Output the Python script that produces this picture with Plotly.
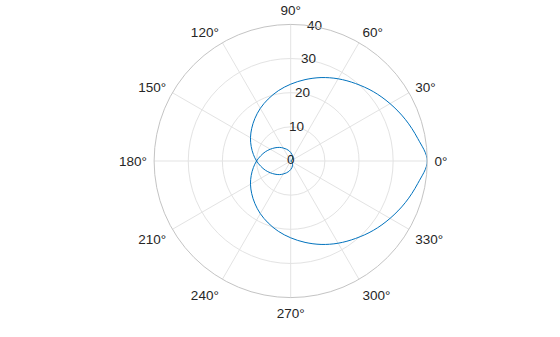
import plotly.graph_objects as go

# Curve samples (theta in degrees, r in data units)
theta_deg = [0, 10, 20, 30, 40, 50, 60, 70, 80, 90, 100, 110, 120, 130, 140, 150, 160, 170, 180,
             190, 200, 210, 220, 230, 240, 250, 260, 270, 280, 290, 300, 310, 320, 330, 340, 350, 360,
             370, 380, 390, 400, 410, 420, 430, 440, 450, 460, 470, 480, 490, 500, 510, 520, 530, 540,
             550, 560, 570, 580, 590, 600, 610, 620, 630, 640, 650, 660, 670, 680, 690, 700, 710, 720]
r_vals = [40.0, 37.8, 35.7, 33.6, 31.6, 29.6, 27.8, 26.0, 24.2, 22.5, 20.9, 19.3, 17.8, 16.3, 14.9, 13.6, 12.3, 11.1, 10.0,
          8.9, 7.9, 6.9, 6.0, 5.2, 4.4, 3.7, 3.1, 2.5, 2.0, 1.5, 1.1, 0.8, 0.5, 0.3, 0.12, 0.03, 0.0,
          0.03, 0.12, 0.3, 0.5, 0.8, 1.1, 1.5, 2.0, 2.5, 3.1, 3.7, 4.4, 5.2, 6.0, 6.9, 7.9, 8.9, 10.0,
          11.1, 12.3, 13.6, 14.9, 16.3, 17.8, 19.3, 20.9, 22.5, 24.2, 26.0, 27.8, 29.6, 31.6, 33.6, 35.7, 37.8, 40.0]

angle_ticks = [0, 30, 60, 90, 120, 150, 180, 210, 240, 270, 300, 330]
angle_labels = [f"{a}\u00b0" for a in angle_ticks]
r_ticks = [0, 10, 20, 30, 40]
r_labels = ["0", "10", "20", "30", "40"]
r_label_angle = 80

TXT = "#262626"
FONT = "Liberation Sans, Arial, sans-serif"
FS = 13.5

fig = go.Figure()
fig.add_trace(go.Scatterpolar(
    r=r_vals, theta=theta_deg, mode="lines",
    line=dict(color="#0072BD", width=1, shape="spline", smoothing=1.0),
    hoverinfo="skip", showlegend=False))
fig.add_trace(go.Scatterpolar(
    r=r_ticks, theta=[r_label_angle] * len(r_ticks), mode="text",
    text=r_labels, textposition="middle center",
    textfont=dict(family=FONT, size=FS, color=TXT),
    hoverinfo="skip", showlegend=False, cliponaxis=False))

fig.update_layout(
    width=560, height=337,
    margin=dict(l=0, r=0, t=0, b=0),
    paper_bgcolor="white",
    font=dict(family=FONT, size=FS, color=TXT),
    showlegend=False,
    polar=dict(
        domain=dict(x=[0.2752, 0.7630], y=[0.1169, 0.9276]),
        bgcolor="white",
        angularaxis=dict(
            direction="counterclockwise", rotation=0,
            tickmode="array", tickvals=angle_ticks, ticktext=angle_labels,
            showline=True, linecolor="#c4c4c4", linewidth=1,
            gridcolor="#e3e3e3", gridwidth=1,
            ticks="outside", ticklen=4, tickcolor="rgba(0,0,0,0)",
            tickfont=dict(family=FONT, size=FS, color=TXT)),
        radialaxis=dict(
            range=[0, 40], tickmode="array", tickvals=r_ticks,
            showticklabels=False, showline=False, ticks="",
            gridcolor="#e3e3e3", gridwidth=1),
    ),
)

fig.write_html("out.html")
